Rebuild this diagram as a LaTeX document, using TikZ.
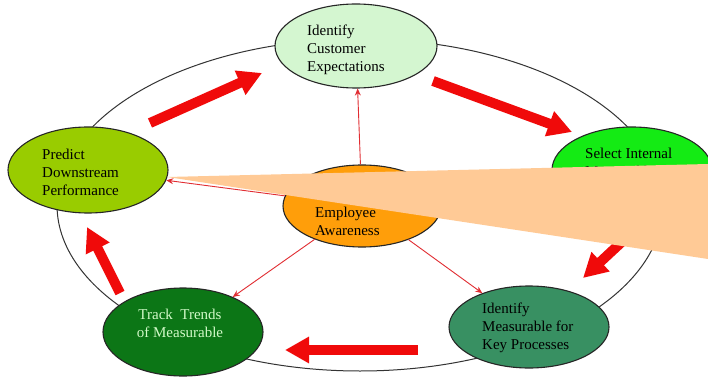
\documentclass[tikz,border=0pt]{standalone}
\usepackage{fontspec}
\setmainfont{Liberation Serif}
\usetikzlibrary{shapes.geometric,arrows.meta}
\definecolor{mint}{RGB}{212,246,208}
\definecolor{olivegreen}{RGB}{153,204,0}
\definecolor{brightgreen}{RGB}{20,235,20}
\definecolor{amber}{RGB}{255,158,10}
\definecolor{seagreen}{RGB}{56,144,98}
\definecolor{forest}{RGB}{12,118,22}
\definecolor{paletext}{RGB}{210,250,200}
\definecolor{peach}{RGB}{255,202,150}
\definecolor{arrowred}{RGB}{240,10,10}
\definecolor{pointerred}{RGB}{225,45,50}
\begin{document}
\begin{tikzpicture}[x=1pt,y=-1pt,
  ell/.style={ellipse, draw=black!85, line width=1.1pt, inner sep=0pt},
  txt/.style={align=left, inner sep=0pt, anchor=west,
              font=\fontsize{15}{18}\selectfont, text=black},
  pointer/.style={draw=pointerred, line width=0.9pt,
                  -{Stealth[length=7pt,width=6pt]}},
  block/.style={draw=arrowred, line width=10pt,
                -{Triangle[length=24pt,width=25pt]}},
  ring/.style={draw=black!80, line width=1pt}]
\useasboundingbox (0,0) rectangle (708,379);
\clip (0,0) rectangle (708,379);
\fill[white] (0,0) rectangle (708,379);

% outer cycle
\draw[ring] (360,205) ellipse [x radius=303pt, y radius=166pt];

% stages
\node[ell, fill=mint, minimum width=162pt, minimum height=84pt] (top) at (356,46) {};
\node[ell, fill=olivegreen, minimum width=160pt, minimum height=86pt] (pred) at (88,170) {};
\node[ell, fill=brightgreen, minimum width=160pt, minimum height=86pt] (sel) at (632,170) {};
\node[ell, fill=amber, minimum width=158pt, minimum height=82pt] (emp) at (362,206) {};
\node[ell, fill=seagreen, minimum width=160pt, minimum height=82pt] (meas) at (529,327) {};
\node[ell, fill=forest, minimum width=160pt, minimum height=88pt] (track) at (183,332) {};

% stage labels
\node[txt] (topT) at (307,50) {Identify\\Customer\\Expectations};
\node[txt] (predT) at (42,172) {Predict\\Downstream\\Performance};
\node[txt] (selT) at (585,162) {Select Internal\\Measurables};
\node[txt] (empT) at (315,221) {Employee\\Awareness};
\node[txt] (measT) at (482,328) {Identify\\Measurable for\\Key Processes};
\node[txt, align=center, anchor=center, text=paletext] (trackT) at (180,323) {Track\ \ Trends\\of Measurable};

% links from the centre
\draw[pointer] (emp) -- (top);
\draw[pointer] (emp) -- (pred);
\draw[pointer] (emp) -- (track);
\draw[pointer] (emp) -- (meas);

% cycle direction arrows
\coordinate (a1s) at (150,123); \coordinate (a1e) at (262,73);
\coordinate (a2s) at (433,81);  \coordinate (a2e) at (572,132);
\coordinate (a3s) at (640,225); \coordinate (a3e) at (583,278);
\coordinate (a4s) at (418,350); \coordinate (a4e) at (285,350);
\coordinate (a5s) at (120,293); \coordinate (a5e) at (87,227);
\draw[block] (a1s) -- (a1e);
\draw[block] (a2s) -- (a2e);
\draw[block] (a3s) -- (a3e);
\draw[block] (a4s) -- (a4e);
\draw[block] (a5s) -- (a5e);

% callout wedge
\coordinate (tip) at (167,177);
\fill[peach] (tip) -- (708,164) -- (708,259) -- cycle;
\end{tikzpicture}
\end{document}
